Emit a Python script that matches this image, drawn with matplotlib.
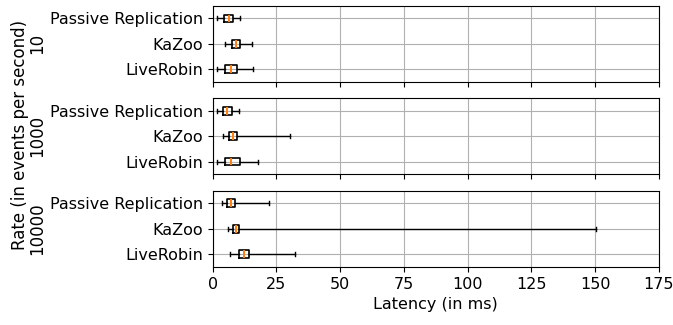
import matplotlib
matplotlib.use("Agg")
import matplotlib.pyplot as plt

# latency stats (ms), order: LiveRobin, KaZoo, Passive Replication
systems = ['LiveRobin', 'KaZoo', 'Passive Replication']
rates = ['10', '1000', '10000']

whislo = [[1.6, 4.7, 1.6], [1.8, 3.9, 1.6], [6.7, 6.1, 3.8]]
q1     = [[5.0, 7.5, 4.4], [5.0, 6.5, 4.2], [10.5, 7.8, 5.6]]
med    = [[7.1, 9.0, 6.3], [7.1, 7.8, 5.8], [12.2, 9.0, 7.2]]
q3     = [[9.5, 10.7, 7.9], [10.6, 9.5, 7.5], [14.4, 10.4, 8.6]]
whishi = [[16.0, 15.6, 10.7], [17.7, 30.3, 10.3], [32.3, 150.5, 22.0]]

xticks = [0, 25, 50, 75, 100, 125, 150, 175]

plt.rcParams['font.size'] = 11.5

fig, axes = plt.subplots(3, 1, sharex=True, figsize=(6.73, 3.25), dpi=100)
fig.subplots_adjust(left=0.316, right=0.979, top=0.9825, bottom=0.179, hspace=0.212)

for i, ax in enumerate(axes):
    stats = []
    for j, name in enumerate(systems):
        stats.append(dict(label=name, whislo=whislo[i][j], q1=q1[i][j],
                          med=med[i][j], q3=q3[i][j], whishi=whishi[i][j]))
    ax.bxp(stats, vert=False, showfliers=False,
           boxprops=dict(linewidth=1.2), medianprops=dict(linewidth=1.4))
    ax.set_ylabel(rates[i], fontsize=12)
    ax.yaxis.set_label_coords(-0.374, 0.5)
    ax.grid(True, color='#b0b0b0')
    ax.set_axisbelow(True)
    ax.set_xlim(0, 175)

axes[-1].set_xticks(xticks)
axes[-1].set_xlabel('Latency (in ms)')
fig.supylabel('Rate (in events per second)', x=0.017, y=0.585, fontsize=12)

fig.savefig('out.png', dpi=100)
